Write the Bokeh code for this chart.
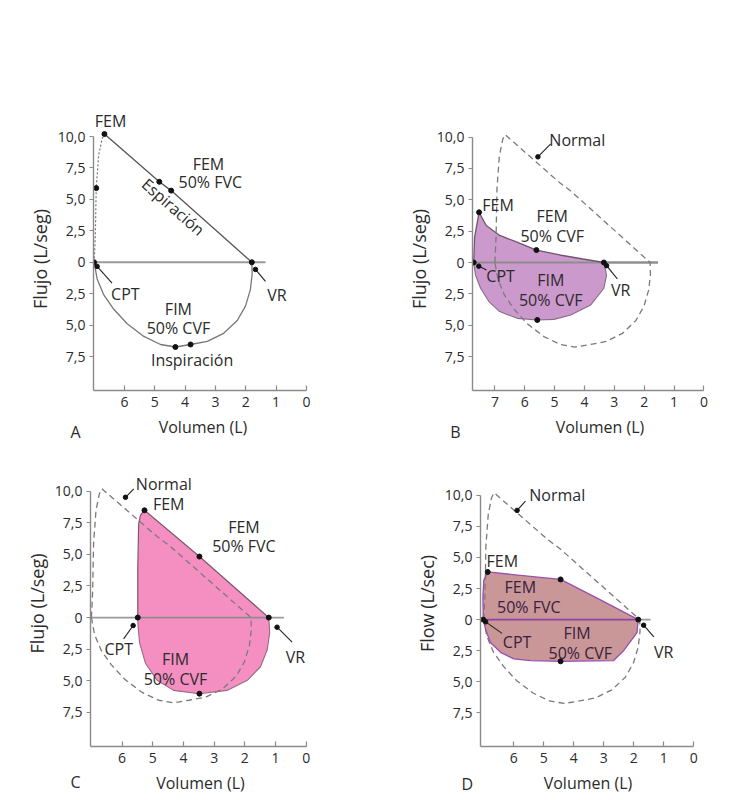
import numpy as np
from bokeh.plotting import figure
from bokeh.models import Range1d, FixedTicker, Label
from bokeh.layouts import column, row
from bokeh.embed import file_html
from bokeh.resources import INLINE

FONT = "Open Sans"
TXT = "#2b2b2b"
TS = "16px"

# ---------------- data ----------------
# Normal loop (panel A, and dashed reference in B, C, D)
normal_rise_vol = [7.00, 6.96, 6.93, 6.85, 6.74, 6.66]
normal_rise_flow = [0.0, 2.1, 5.9, 8.5, 9.8, 10.2]
normal_exp_vol = [6.66, 4.85, 4.46, 1.80]
normal_exp_flow = [10.2, 6.4, 5.7, 0.0]
normal_insp_vol = [1.80, 1.79, 1.85, 2.01, 2.28, 2.73, 3.27, 3.82, 4.32, 4.81, 5.36, 5.91, 6.35, 6.68, 6.90, 7.00]
normal_insp_flow = [0.0, -0.95, -2.20, -3.49, -4.63, -5.65, -6.29, -6.54, -6.74, -6.54, -5.90, -4.89, -3.74, -2.60, -1.33, 0.0]
a_pts_vol = [7.00, 6.93, 6.66, 4.85, 4.46, 1.80, 4.32, 3.82]
a_pts_flow = [0.0, 5.9, 10.2, 6.4, 5.7, 0.0, -6.74, -6.54]

# B: obstructive
b_exp_vol = [7.71, 7.68, 7.53, 7.29, 6.84, 6.28, 5.61, 4.83, 4.05, 3.35]
b_exp_flow = [0.0, 2.0, 4.0, 2.95, 2.16, 1.64, 0.99, 0.60, 0.28, 0.0]
b_insp_vol = [3.35, 3.26, 3.35, 3.79, 4.46, 5.02, 5.58, 6.25, 6.84, 7.20, 7.48, 7.65, 7.71]
b_insp_flow = [0.0, -1.0, -2.05, -3.38, -4.18, -4.53, -4.58, -4.45, -3.91, -3.11, -2.05, -0.99, 0.0]
b_pts_vol = [7.71, 7.53, 5.61, 3.35, 5.58]
b_pts_flow = [0.0, 4.0, 0.99, 0.0, -4.58]

# C: restrictive
c_exp_vol = [5.49, 5.49, 5.46, 5.40, 5.27, 3.48, 1.22]
c_exp_flow = [0.0, 3.8, 7.44, 8.1, 8.49, 4.83, 0.0]
c_insp_vol = [1.22, 1.19, 1.27, 1.49, 1.92, 2.58, 3.48, 4.32, 4.86, 5.24, 5.43, 5.48, 5.49]
c_insp_flow = [0.0, -1.2, -2.55, -3.89, -4.96, -5.76, -6.02, -5.76, -4.96, -3.61, -2.0, -0.67, 0.0]
c_pts_vol = [5.49, 5.27, 3.48, 1.22, 3.48]
c_pts_flow = [0.0, 8.49, 4.83, 0.0, -6.02]

# D: fixed upper airway obstruction
d_exp_vol = [7.02, 7.03, 7.00, 6.87, 4.44, 3.11, 1.85]
d_exp_flow = [0.0, 1.85, 3.17, 3.83, 3.23, 1.59, 0.0]
d_insp_vol = [1.85, 1.89, 2.33, 2.67, 4.44, 5.44, 6.00, 6.44, 6.78, 6.94, 7.02]
d_insp_flow = [0.0, -1.05, -2.48, -3.29, -3.35, -3.29, -3.16, -2.63, -1.84, -0.79, 0.0]
d_pts_vol = [7.02, 6.87, 4.44, 1.85, 4.44]
d_pts_flow = [0.0, 3.83, 3.23, 0.0, -3.35]

flow_ticks = [-7.5, -5.0, -2.5, 0.0, 2.5, 5.0, 7.5, 10.0]
flow_tick_labels = ["7,5", "5,0", "2,5", "0", "2,5", "5,0", "7,5", "10,0"]


def make_fig(width, height, borders, xr, yr, xticks, ylabel, x_zero_end):
    left, right, top, bottom = borders
    p = figure(width=width, height=height, x_range=Range1d(*xr), y_range=Range1d(*yr),
               output_backend="svg", toolbar_location=None,
               min_border_left=left, min_border_right=right,
               min_border_top=top, min_border_bottom=bottom)
    p.outline_line_color = None
    p.grid.visible = False
    p.background_fill_color = "white"
    p.border_fill_color = "white"
    for ax in (p.xaxis[0], p.yaxis[0]):
        ax.axis_line_color = "#8a8a8a"
        ax.axis_line_width = 1.4
        ax.major_tick_line_color = "#8a8a8a"
        ax.major_tick_line_width = 1.2
        ax.minor_tick_line_color = None
        ax.major_label_text_font = FONT
        ax.major_label_text_font_size = "14px"
        ax.major_label_text_color = TXT
        ax.axis_label_text_font = FONT
        ax.axis_label_text_font_style = "normal"
        ax.axis_label_text_color = TXT
    xa, ya = p.xaxis[0], p.yaxis[0]
    xa.ticker = FixedTicker(ticks=xticks)
    xa.bounds = (0, xr[0])
    xa.major_tick_in = 5
    xa.major_tick_out = 0
    xa.major_label_standoff = 6
    xa.axis_label = "Volumen (L)"
    xa.axis_label_text_font_size = TS
    xa.axis_label_standoff = 6
    ya.ticker = FixedTicker(ticks=flow_ticks)
    ya.major_label_overrides = {t: s for t, s in zip(flow_ticks, flow_tick_labels)}
    ya.bounds = (yr[0], 10)
    ya.major_tick_in = 0
    ya.major_tick_out = 4
    ya.major_label_standoff = 4
    ya.axis_label = ylabel
    ya.axis_label_text_font_size = "18px"
    ya.axis_label_standoff = 3
    # zero flow line
    p.line([xr[0], x_zero_end], [0, 0], line_color="#9a9a9a", line_width=1.8)
    return p


def add_text(p, items, color=TXT):
    for it in items:
        x, y, t = it[0], it[1], it[2]
        align = it[3] if len(it) > 3 else "center"
        ang = it[4] if len(it) > 4 else 0
        p.add_layout(Label(x=x, y=y, text=t, text_font=FONT, text_font_size=TS,
                           text_color=color, text_align=align, text_baseline="middle",
                           angle=ang, angle_units="deg"))


def add_outside_text(p, x, y, t, side):
    # text placed in the canvas margin (outside the plot frame)
    p.add_layout(Label(x=x, y=y, x_units="canvas", y_units="canvas", text=t,
                       text_font=FONT, text_font_size=TS, text_color=TXT,
                       text_align="center", text_baseline="middle"), side)


def add_leaders(p, segs):
    for x0, y0, x1, y1 in segs:
        p.segment(x0=[x0], y0=[y0], x1=[x1], y1=[y1], line_color="#222222", line_width=1.1)
        p.scatter([x1], [y1], size=4.5, color="#111111")


def add_normal_dashed(p):
    nv = normal_rise_vol + normal_exp_vol[1:] + normal_insp_vol[1:]
    nf = normal_rise_flow + normal_exp_flow[1:] + normal_insp_flow[1:]
    p.line(nv, nf, line_color="#7a7a7a", line_width=1.3, line_dash="6 4")


# ---------------- Panel A ----------------
pa = make_fig(375, 450, (93, 63, 125, 60), (7.02, -0.2), (-10.2, 10.72),
              [0, 1, 2, 3, 4, 5, 6], "Flujo (L/seg)", 1.35)
pa.line(normal_rise_vol, normal_rise_flow, line_color="#777777", line_width=1.2, line_dash="2 2")
pa.line(normal_exp_vol, normal_exp_flow, line_color="#555555", line_width=1.3)
pa.line(normal_insp_vol, normal_insp_flow, line_color="#777777", line_width=1.3)
pa.scatter(a_pts_vol, a_pts_flow, size=5, color="#111111")
add_leaders(pa, [(6.41, -1.65, 6.90, -0.33), (1.35, -1.52, 1.68, -0.57)])
add_text(pa, [(3.23, 7.82, "FEM"), (3.17, 6.37, "50% FVC"),
              (4.39, 4.40, "Espiración", "center", -41.3),
              (5.97, -2.54, "CPT"), (0.97, -2.57, "VR"),
              (4.22, -3.73, "FIM"), (4.22, -5.20, "50% CVF"),
              (3.77, -7.78, "Inspiración")])
add_outside_text(pa, 110, 120, "FEM", "above")
add_outside_text(pa, 75, 431, "A", "left")

# ---------------- Panel B ----------------
pb = make_fig(375, 450, (97, 23, 127, 57), (7.75, -0.79), (-10.2, 10.76),
              [0, 1, 2, 3, 4, 5, 6, 7], "Flujo (L/seg)", 1.54)
pb.patch(list(b_exp_vol) + list(b_insp_vol[1:]), list(b_exp_flow) + list(b_insp_flow[1:]),
         fill_color="#cc99cc", line_color=None)
pb.line([7.75, 1.54], [0, 0], line_color="#8d8d8d", line_width=1.8)
add_normal_dashed(pb)
pb.line(b_exp_vol, b_exp_flow, line_color="#6f5570", line_width=1.3)
pb.line(b_insp_vol, b_insp_flow, line_color="#8a6a8a", line_width=1.1)
pb.scatter(b_pts_vol, b_pts_flow, size=5, color="#111111")
add_leaders(pb, [(5.13, 9.45, 5.56, 8.42), (7.28, -0.59, 7.54, -0.29), (2.90, -1.30, 3.26, -0.25)])
add_text(pb, [(4.24, 9.74, "Normal"), (7.42, 4.61, "FEM", "left"),
              (5.08, 3.69, "FEM"), (5.08, 2.12, "50% CVF"),
              (6.81, -1.04, "CPT"), (5.13, -1.43, "FIM"), (5.13, -3.01, "50% CVF"),
              (2.79, -2.22, "VR")])
add_outside_text(pb, 80, 431.7, "B", "left")

# ---------------- Panel C ----------------
pc = make_fig(375, 350, (90, 65, 10, 54), (7.03, -0.14), (-10.2, 12.43),
              [0, 1, 2, 3, 4, 5, 6], "Flujo (L/seg)", 0.73)
pc.patch(list(c_exp_vol) + list(c_insp_vol[1:]), list(c_exp_flow) + list(c_insp_flow[1:]),
         fill_color="#f58fc2", line_color=None)
pc.line([5.49, 1.22], [0, 0], line_color="#8d8d8d", line_width=1.8)
add_normal_dashed(pc)
pc.line(c_exp_vol, c_exp_flow, line_color="#7a5a6a", line_width=1.2)
pc.line(c_insp_vol, c_insp_flow, line_color="#9a6a80", line_width=1.1)
pc.scatter(c_pts_vol, c_pts_flow, size=5, color="#111111")
add_leaders(pc, [(5.62, 10.19, 5.89, 9.52), (5.95, -1.68, 5.64, -0.63), (0.46, -1.95, 0.95, -0.76)])
add_text(pc, [(4.64, 10.58, "Normal"), (4.48, 9.00, "FEM"),
              (2.03, 7.15, "FEM"), (2.03, 5.70, "50% FVC"),
              (6.11, -2.47, "CPT"), (4.26, -3.26, "FIM"), (4.26, -4.84, "50% CVF"),
              (0.35, -3.14, "VR")])
add_outside_text(pc, 75, 331.7, "C", "left")

# ---------------- Panel D ----------------
pd_ = make_fig(375, 350, (105, 55, 9, 53), (7.11, -0.06), (-10.2, 12.79),
               [0, 1, 2, 3, 4, 5, 6], "Flow (L/sec)", 1.44)
pd_.patch(list(d_exp_vol) + list(d_insp_vol[1:]), list(d_exp_flow) + list(d_insp_flow[1:]),
          fill_color="#c99797", line_color=None)
add_normal_dashed(pd_)
pd_.line([7.02, 1.85], [0, 0], line_color="#8e44a8", line_width=1.8)
pd_.line(d_exp_vol, d_exp_flow, line_color="#9a4fb0", line_width=1.3)
pd_.line(d_insp_vol, d_insp_flow, line_color="#9a4fb0", line_width=1.3)
pd_.scatter(d_pts_vol, d_pts_flow, size=5, color="#111111")
add_leaders(pd_, [(5.61, 9.52, 5.89, 8.78), (6.39, -1.11, 6.94, -0.18), (1.33, -1.38, 1.67, -0.45)])
add_text(pd_, [(4.55, 10.0, "Normal"), (6.91, 4.74, "FEM", "left"), (1.00, -2.58, "VR")])
add_text(pd_, [(5.78, 2.61, "FEM"), (5.50, 1.01, "50% FVC"),
               (5.89, -1.78, "CPT"), (3.89, -1.11, "FIM"), (3.78, -2.70, "50% CVF")],
         color="#3a2040")
add_outside_text(pd_, 91.7, 333.3, "D", "left")

layout = column(row(pa, pb), row(pc, pd_))
open("out.html", "w").write(file_html(layout, INLINE))
